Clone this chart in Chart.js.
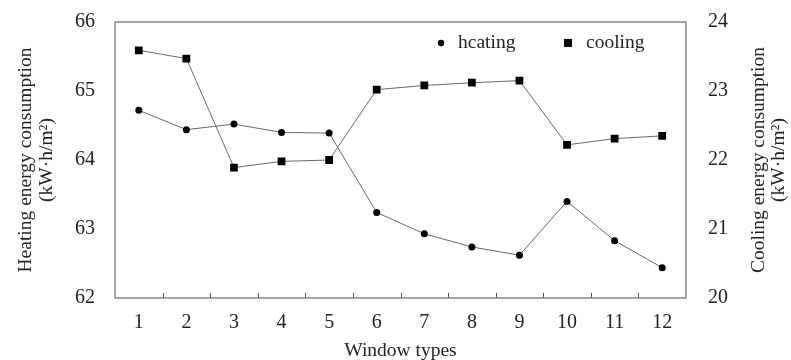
<!DOCTYPE html>
<html>
<head>
    <title>Window types energy consumption</title>
    <script src="https://cdn.jsdelivr.net/npm/chart.js"></script>
    <style>
        body { margin: 0; background: #fff; }
        #wrap { width: 791px; height: 360px; }
    </style>
</head>
<body>
<div id="wrap"><canvas id="energyChart" width="791" height="360"></canvas></div>
<script>
    // data
    var windowTypes = ['1', '2', '3', '4', '5', '6', '7', '8', '9', '10', '11', '12'];
    var heating = [64.72, 64.44, 64.52, 64.40, 64.39, 63.24, 62.93, 62.74, 62.62, 63.40, 62.83, 62.44];
    var cooling = [23.59, 23.47, 21.89, 21.98, 22.00, 23.02, 23.08, 23.12, 23.15, 22.22, 22.31, 22.35];
    var heatingTicks = [62, 63, 64, 65, 66];
    var coolingTicks = [20, 21, 22, 23, 24];

    var serif = '"Liberation Serif", "DejaVu Serif", serif';

    // draws box, inward x ticks, rotated axis titles and the legend
    var extras = {
        id: 'extras',
        afterDraw: function(chart) {
            var ctx = chart.ctx;
            var a = chart.chartArea;
            var x = chart.scales.x;
            ctx.save();
            ctx.strokeStyle = '#888';
            ctx.lineWidth = 1.5;
            ctx.strokeRect(a.left, a.top, a.right - a.left, a.bottom - a.top);

            // inward ticks between categories
            ctx.lineWidth = 1;
            ctx.strokeStyle = '#555';
            for (var i = 1; i < windowTypes.length; i++) {
                var px = Math.round((x.getPixelForValue(i - 1) + x.getPixelForValue(i)) / 2) + 0.5;
                ctx.beginPath();
                ctx.moveTo(px, a.bottom);
                ctx.lineTo(px, a.bottom - 5);
                ctx.stroke();
            }

            // axis titles, both read bottom to top
            ctx.fillStyle = '#222';
            ctx.font = '19.5px ' + serif;
            ctx.textAlign = 'center';
            ctx.textBaseline = 'middle';
            var midY = (a.top + a.bottom) / 2;
            function vtitle(c1, c2, lines) {
                ctx.save();
                ctx.translate(c1, midY);
                ctx.rotate(-Math.PI / 2);
                ctx.fillText(lines[0], 0, 0);
                ctx.fillText(lines[1], 0, c2 - c1);
                ctx.restore();
            }
            vtitle(26, 47, ['Heating energy consumption', '(kW\u00b7h/m\u00b2)']);
            vtitle(759, 779, ['Cooling energy consumption', '(kW\u00b7h/m\u00b2)']);

            // legend inside plot
            ctx.font = '19.5px ' + serif;
            ctx.textAlign = 'left';
            var ly = 43;
            ctx.fillStyle = '#000';
            ctx.beginPath();
            ctx.arc(441, ly, 3.2, 0, Math.PI * 2);
            ctx.fill();
            ctx.fillStyle = '#222';
            ctx.fillText(chart.data.datasets[0].label, 458, ly);
            ctx.fillStyle = '#000';
            ctx.fillRect(564, ly - 4, 8, 8);
            ctx.fillStyle = '#222';
            ctx.fillText(chart.data.datasets[1].label, 586, ly);
            ctx.restore();
        }
    };

    // fixed axis width, no label overhang padding
    function fixWidth(w) {
        return function(scale) {
            scale.width = w;
            scale.paddingTop = 0;
            scale.paddingBottom = 0;
        };
    }

    new Chart(document.getElementById('energyChart').getContext('2d'), {
        type: 'line',
        data: {
            labels: windowTypes,
            datasets: [{
                label: 'hcating',
                data: heating,
                yAxisID: 'yHeat',
                borderColor: '#666',
                borderWidth: 1,
                pointStyle: 'circle',
                pointRadius: 3.5,
                pointBackgroundColor: '#000',
                pointBorderColor: '#000',
                pointBorderWidth: 0,
                tension: 0
            }, {
                label: 'cooling',
                data: cooling,
                yAxisID: 'yCool',
                borderColor: '#666',
                borderWidth: 1,
                pointStyle: 'rect',
                pointRadius: 5.5,
                pointBackgroundColor: '#000',
                pointBorderColor: '#000',
                pointBorderWidth: 0,
                tension: 0
            }]
        },
        options: {
            responsive: false,
            animation: false,
            layout: { padding: { top: 22, bottom: 0 } },
            plugins: { legend: { display: false }, tooltip: { enabled: false } },
            scales: {
                x: {
                    offset: true,
                    grid: { display: false },
                    border: { display: false },
                    ticks: { color: '#222', font: { family: serif, size: 20 }, padding: 5 },
                    title: {
                        display: true, text: 'Window types', color: '#222',
                        font: { family: serif, size: 19.5 }, padding: { top: 0, bottom: -3 }
                    },
                    afterFit: function(scale) {
                        scale.height = 62;
                        scale.paddingLeft = 0;
                        scale.paddingRight = 0;
                    }
                },
                yHeat: {
                    position: 'left',
                    min: 62, max: 66,
                    afterBuildTicks: function(scale) {
                        scale.ticks = heatingTicks.map(function(v) { return { value: v }; });
                    },
                    grid: { display: false },
                    border: { display: false },
                    ticks: { color: '#222', font: { family: serif, size: 20 }, padding: 12 },
                    afterFit: fixWidth(115)
                },
                yCool: {
                    position: 'right',
                    min: 20, max: 24,
                    afterBuildTicks: function(scale) {
                        scale.ticks = coolingTicks.map(function(v) { return { value: v }; });
                    },
                    grid: { display: false },
                    border: { display: false },
                    ticks: { color: '#222', font: { family: serif, size: 20 }, padding: 14 },
                    afterFit: fixWidth(105)
                }
            }
        },
        plugins: [extras]
    });
</script>
</body>
</html>
